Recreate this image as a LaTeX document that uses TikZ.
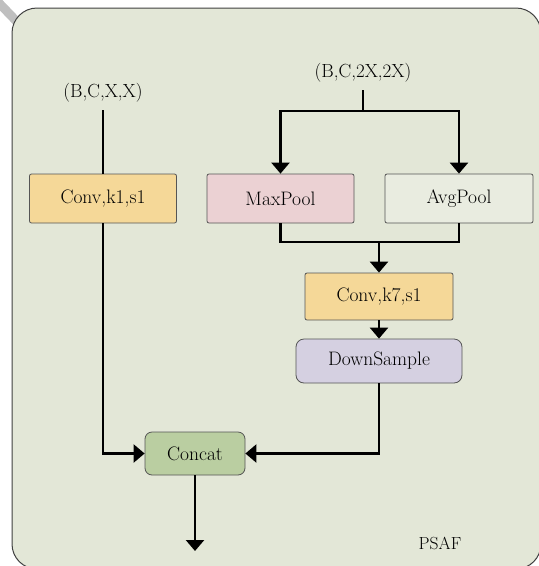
\documentclass[tikz,border=0pt]{standalone}
\usepackage{fontspec}
\setmainfont{Latin Modern Roman}
\usetikzlibrary{arrows.meta}
\definecolor{bgc}{HTML}{E3E7D7}
\definecolor{convc}{HTML}{F5D898}
\definecolor{maxc}{HTML}{EBD1D3}
\definecolor{avgc}{HTML}{E9ECE0}
\definecolor{downc}{HTML}{D5D0E1}
\definecolor{catc}{HTML}{BACEA1}
\definecolor{edgec}{HTML}{555555}
\tikzset{
  box/.style={draw=edgec, line width=0.8pt, rounded corners=2pt, minimum width=147pt, minimum height=49pt, inner sep=0pt, font=\fontsize{19.5}{22}\selectfont},
  lbl/.style={inner sep=0pt, font=\fontsize{19}{22}\selectfont},
  conn/.style={line width=2.4pt, draw=black},
  arr/.style={conn, -{Triangle[width=18pt,length=11pt]}},
}
\begin{document}
\begin{tikzpicture}[x=1pt,y=-1pt]
\useasboundingbox (0,0) rectangle (539,566);
\begin{scope}
\clip (0,0) rectangle (539,566);
\draw[line width=9pt, color=gray!50] (-2,2) -- (22,27);
\draw[draw=black!75, line width=1pt, fill=bgc, rounded corners=25pt] (12,8) rectangle (541,569);
\end{scope}

\node[lbl] (in1) at (103,93) {(B,C,X,X)};
\node[lbl] (in2) at (363,73) {(B,C,2X,2X)};
\node[box, fill=convc] (conv1) at (103,198.5) {Conv,k1,s1};
\node[box, fill=maxc] (maxpool) at (280.5,198.5) {MaxPool};
\node[box, fill=avgc, minimum width=148pt] (avgpool) at (459,198.5) {AvgPool};
\node[box, fill=convc, minimum width=148pt, minimum height=47pt] (conv7) at (379,296.5) {Conv,k7,s1};
\node[box, fill=downc, minimum width=166pt, minimum height=44pt, rounded corners=8pt] (down) at (379,361) {DownSample};
\node[box, fill=catc, minimum width=100pt, minimum height=43pt, rounded corners=7pt] (concat) at (195,453.5) {Concat};
\node[lbl, font=\fontsize{17.5}{20}\selectfont] (psaf) at (440,543) {PSAF};

\coordinate (s1) at (103,110);
\coordinate (s2) at (363,90);
\coordinate (split) at (363,111);
\coordinate (merge) at (379,242);
\coordinate (out) at (195,551);

\draw[conn] (conv1.north |- s1) -- (conv1.north);
\draw[arr] (conv1.south) |- (concat.west);
\draw[conn] (s2) -- (split);
\draw[arr] (split) -| (maxpool.north);
\draw[arr] (split) -| (avgpool.north);
\draw[conn] (maxpool.south) |- (avgpool.south |- merge) -- (avgpool.south);
\draw[arr] (merge) -- (conv7.north);
\draw[arr] (conv7.south) -- (down.north);
\draw[arr] (down.south) |- (concat.east);
\draw[arr] (concat.south) -- (out);
\end{tikzpicture}
\end{document}
